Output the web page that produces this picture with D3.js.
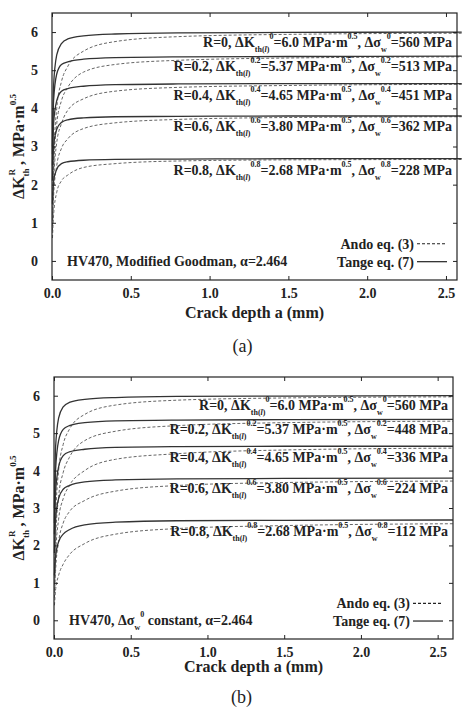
<!DOCTYPE html>
<html><head><meta charset="utf-8">
<script src="https://cdn.jsdelivr.net/npm/d3@7"></script>
<style>body{margin:0;background:#fff}</style>
</head><body><div id="chart"></div>
<script>
// crack depth sample points (mm), shared by every curve
var aPts = [0.003,0.01,0.03,0.06,0.1,0.2,0.4,0.8,1.5,2.6];
var rLabels = ["0","0.2","0.4","0.6","0.8"];
var kLong = ["6.0","5.37","4.65","3.80","2.68"];
var swA = ["560","513","451","362","228"];
var swB = ["560","448","336","224","112"];
var labelK = [5.62,4.98,4.22,3.4,2.25];

var tangeA = [
 [3.0,4.6,5.4,5.7,5.82,5.9,5.95,5.98,5.99,6.0],
 [2.8,4.2,4.9,5.15,5.22,5.29,5.33,5.35,5.36,5.37],
 [2.5,3.6,4.2,4.45,4.52,4.58,4.62,4.64,4.65,4.65],
 [2.1,3.0,3.45,3.63,3.7,3.75,3.78,3.79,3.8,3.8],
 [1.5,2.1,2.4,2.55,2.6,2.64,2.66,2.67,2.68,2.68]];
var andoA = [
 [1.2,2.6,4.0,4.7,5.1,5.5,5.75,5.88,5.94,5.97],
 [1.1,2.3,3.6,4.2,4.55,4.95,5.15,5.26,5.32,5.35],
 [0.9,2.0,3.1,3.6,3.95,4.25,4.45,4.55,4.6,4.63],
 [0.8,1.7,2.5,2.95,3.2,3.47,3.62,3.71,3.76,3.78],
 [0.6,1.2,1.8,2.1,2.25,2.45,2.55,2.62,2.65,2.66]];
var tangeB = [
 [3.0,4.6,5.4,5.7,5.82,5.9,5.95,5.98,5.99,6.0],
 [2.6,4.0,4.8,5.1,5.2,5.28,5.33,5.35,5.36,5.37],
 [2.3,3.4,4.1,4.4,4.5,4.57,4.62,4.64,4.65,4.65],
 [1.8,2.7,3.25,3.5,3.6,3.7,3.75,3.78,3.79,3.8],
 [1.2,1.7,2.1,2.3,2.42,2.55,2.62,2.66,2.67,2.68]];
var andoB = [
 [1.2,2.6,4.0,4.7,5.1,5.5,5.75,5.88,5.94,5.97],
 [1.0,2.1,3.3,3.95,4.35,4.8,5.05,5.2,5.28,5.32],
 [0.8,1.7,2.7,3.25,3.6,4.0,4.3,4.45,4.55,4.6],
 [0.6,1.3,2.1,2.6,2.9,3.2,3.45,3.6,3.68,3.72],
 [0.4,0.8,1.2,1.5,1.75,2.05,2.3,2.45,2.53,2.58]];
var xTicks = [0,0.5,1.0,1.5,2.0,2.5];
var yTicks = [0,1,2,3,4,5,6];

var FONT = "'Liberation Serif','DejaVu Serif',serif";
var svg = d3.select("#chart").append("svg").attr("width",467).attr("height",723)
	.attr("font-family",FONT);

drawPanel({x0:52,x1:457,y0:13,y1:280,xmax:2.57,tange:tangeA,ando:andoA,sw:swA,
  note:"a",xlab:318,tag:"(a)",tagY:352});
drawPanel({x0:54,x1:453,y0:377,y1:639,xmax:2.6,tange:tangeB,ando:andoB,sw:swB,
  note:"b",xlab:672,tag:"(b)",tagY:703});

function txt(sel){
	return sel.attr("font-family",FONT).attr("font-weight","bold").attr("font-size",14).attr("fill","#222");
}

function drawPanel(c){
	var x = d3.scaleLinear().domain([0,c.xmax]).range([c.x0,c.x1]);
	var y = d3.scaleLinear().domain([-0.5,6.5]).range([c.y1,c.y0]);
	var g = svg.append("g");
	var line = d3.line().x(function(d,i){return x(aPts[i]);}).y(function(d){return y(d);}).curve(d3.curveMonotoneX);

	c.ando.forEach(function(s){
		g.append("path").attr("d",line(s)).attr("fill","none").attr("stroke","#666")
			.attr("stroke-width",1).attr("stroke-dasharray","3,2");
	});
	c.tange.forEach(function(s){
		g.append("path").attr("d",line(s)).attr("fill","none").attr("stroke","#333").attr("stroke-width",1.3);
	});

	// frame + ticks
	g.append("rect").attr("x",c.x0).attr("y",c.y0).attr("width",c.x1-c.x0).attr("height",c.y1-c.y0)
		.attr("fill","none").attr("stroke","#222").attr("stroke-width",1.2);
	var axes = g.append("g");
	axes.append("g").attr("transform","translate(0,"+c.y1+")")
		.call(d3.axisBottom(x).tickValues(xTicks).tickSize(-4).tickPadding(8).tickFormat(d3.format(".1f")));
	axes.append("g").attr("transform","translate("+c.x0+",0)")
		.call(d3.axisLeft(y).tickValues(yTicks).tickSize(-4).tickPadding(14).tickFormat(d3.format("d")));
	axes.append("g").attr("transform","translate(0,"+c.y0+")")
		.call(d3.axisTop(x).tickValues(xTicks).tickSize(-4).tickFormat(""));
	axes.append("g").attr("transform","translate("+c.x1+",0)")
		.call(d3.axisRight(y).tickValues(yTicks).tickSize(-4).tickFormat(""));
	axes.selectAll("g").attr("font-family",FONT);
	axes.selectAll(".domain").remove();
	axes.selectAll(".tick line").attr("stroke","#222");
	txt(axes.selectAll(".tick text"));

	// curve labels
	rLabels.forEach(function(r,i){
		var t = txt(g.append("text")).attr("x",c.x1-5).attr("y",y(labelK[i])).attr("text-anchor","end");
		t.append("tspan").text("R="+r+", ΔK");
		t.append("tspan").attr("dy",5).attr("font-size",8).text("th(");
		t.append("tspan").attr("font-size",8).attr("font-style","italic").text("l");
		t.append("tspan").attr("font-size",8).text(")");
		t.append("tspan").attr("dy",-13).attr("font-size",8).text(r);
		t.append("tspan").attr("dy",8).text("="+kLong[i]+" MPa·m");
		t.append("tspan").attr("dy",-8).attr("font-size",8).text("0.5");
		t.append("tspan").attr("dy",8).text(", Δσ");
		t.append("tspan").attr("dy",5).attr("font-size",8).text("w");
		t.append("tspan").attr("dy",-13).attr("font-size",8).text(r);
		t.append("tspan").attr("dy",8).text("="+c.sw[i]+" MPa");
	});

	// legend
	var lx = c.x1-10;
	[["Ando eq. (3)","3,2",y(0.45)],["Tange eq. (7)",null,y(-0.02)]].forEach(function(L){
		txt(g.append("text")).attr("x",lx-33).attr("y",L[2]+5).attr("text-anchor","end").text(L[0]);
		g.append("line").attr("x1",lx-30).attr("x2",lx).attr("y1",L[2]).attr("y2",L[2])
			.attr("stroke","#222").attr("stroke-width",1.2).attr("stroke-dasharray",L[1]);
	});

	var n = txt(g.append("text")).attr("x",c.x0+15).attr("y",y(0)+5);
	if(c.note=="a"){
		n.text("HV470, Modified Goodman, α=2.464");
	}else{
		n.append("tspan").text("HV470, Δσ");
		n.append("tspan").attr("dy",5).attr("font-size",8).text("w");
		n.append("tspan").attr("dy",-13).attr("font-size",8).text("0");
		n.append("tspan").attr("dy",8).text(" constant, α=2.464");
	}

	// axis titles
	txt(g.append("text")).attr("x",(c.x0+c.x1)/2).attr("y",c.xlab).attr("text-anchor","middle")
		.attr("font-size",16).text("Crack depth a (mm)");
	var yt = txt(g.append("text")).attr("transform","translate(24,"+((c.y0+c.y1)/2)+") rotate(-90)")
		.attr("text-anchor","middle").attr("font-size",16);
	yt.append("tspan").text("ΔK");
	yt.append("tspan").attr("dy",5).attr("font-size",9).text("th");
	yt.append("tspan").attr("dy",-14).attr("dx",-7).attr("font-size",9).text("R");
	yt.append("tspan").attr("dy",9).text(" , MPa·m");
	yt.append("tspan").attr("dy",-8).attr("font-size",9).text("0.5");

	g.append("text").attr("x",(c.x0+c.x1)/2-12).attr("y",c.tagY).attr("text-anchor","middle")
		.attr("font-family",FONT).attr("font-size",18).attr("fill","#222").text(c.tag);
}
</script></body></html>
